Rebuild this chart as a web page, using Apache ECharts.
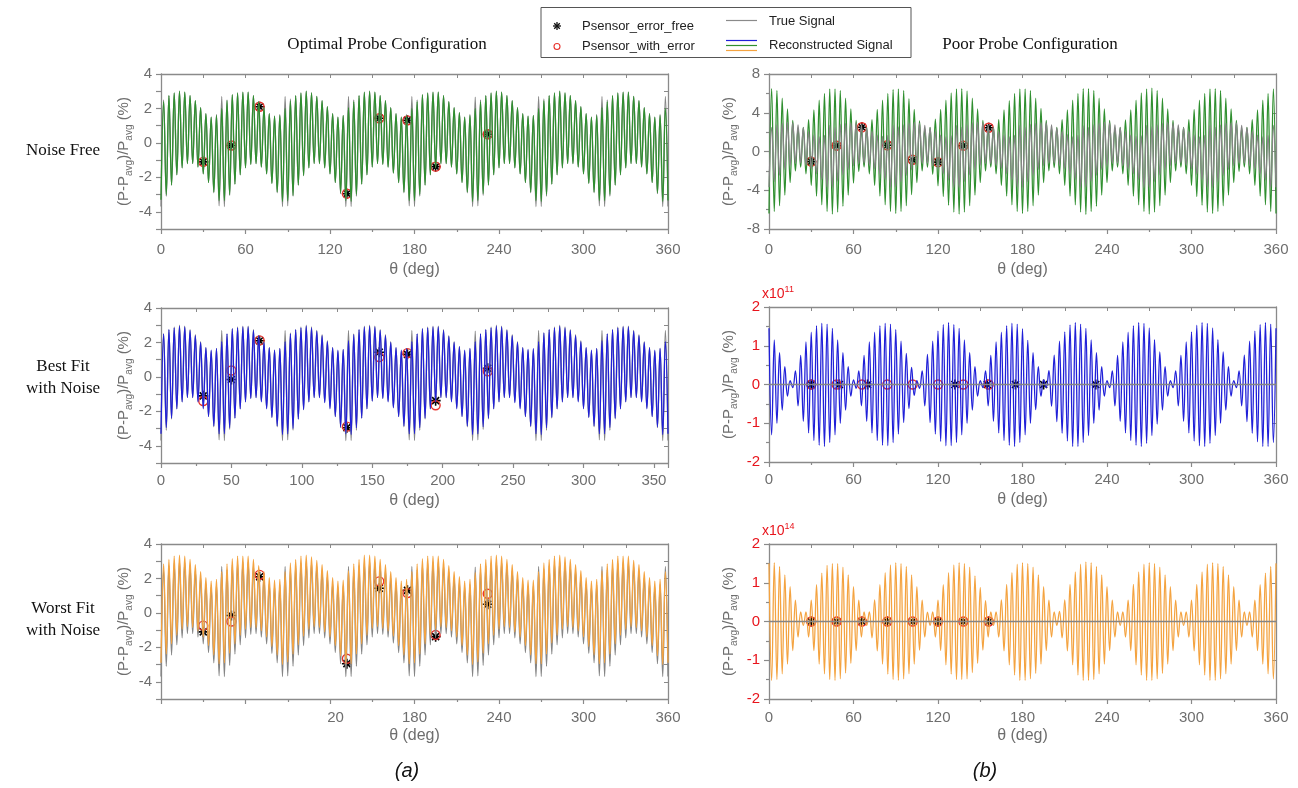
<!DOCTYPE html>
<html><head><meta charset="utf-8">
<script src="https://cdn.jsdelivr.net/npm/echarts@6/dist/echarts.min.js"></script>
<style>html,body{margin:0;padding:0;background:#fff}#c{width:1298px;height:788px}</style>
</head><body><div id="c"></div>
<script>
// ---------------- DATA ----------------
// signals are sampled every THETA_STEP degrees (extrema of the carrier), 193 samples 0..360
const THETA_STEP = 1.875;

const trueSignal = [
-3.7,2.5,-3.1,2.75,-2.45,2.9,-1.85,3.0,-1.45,2.95,-1.2,2.75,-1.2,2.45,-1.4,2.05,-1.8,1.7,-2.3,1.5,-2.9,1.65,-3.65,2.7,
-3.7,2.5,-3.05,2.8,-2.4,2.9,-1.85,2.95,-1.45,2.95,-1.25,2.75,-1.2,2.4,-1.4,2.05,-1.8,1.7,-2.35,1.55,-2.9,1.65,-3.7,2.7,
-3.65,2.55,-3.1,2.75,-2.45,2.9,-1.9,3.0,-1.45,2.9,-1.2,2.7,-1.2,2.45,-1.45,2.1,-1.8,1.7,-2.3,1.5,-2.95,1.6,-3.7,2.7,
-3.7,2.5,-3.1,2.75,-2.4,2.95,-1.85,3.0,-1.4,2.95,-1.2,2.75,-1.25,2.45,-1.4,2.05,-1.75,1.7,-2.3,1.5,-2.9,1.65,-3.65,2.7,
-3.7,2.5,-3.1,2.8,-2.45,2.9,-1.85,2.95,-1.45,2.95,-1.2,2.75,-1.2,2.4,-1.4,2.05,-1.8,1.75,-2.3,1.5,-2.9,1.65,-3.7,2.65,
-3.65,2.5,-3.05,2.75,-2.45,2.9,-1.85,3.0,-1.45,2.95,-1.2,2.75,-1.2,2.45,-1.45,2.05,-1.8,1.7,-2.3,1.55,-2.9,1.6,-3.7,2.7,
-3.7,2.55,-3.1,2.75,-2.4,2.9,-1.85,3.0,-1.45,2.9,-1.2,2.75,-1.2,2.45,-1.4,2.1,-1.8,1.7,-2.35,1.5,-2.9,1.65,-3.65,2.7,
-3.7,2.5,-3.1,2.75,-2.45,2.9,-1.85,2.95,-1.45,2.95,-1.2,2.7,-1.2,2.45,-1.4,2.05,-1.8,1.7,-2.3,1.5,-2.95,1.65,-3.7,2.7,
-3.7];

const recOptNoiseFree = [
-3.3,2.4,-3.0,2.75,-2.45,2.9,-1.85,3.0,-1.45,2.95,-1.2,2.75,-1.2,2.45,-1.4,2.05,-1.8,1.7,-2.3,1.5,-2.85,1.6,-3.35,2.0,
-3.35,2.45,-3.0,2.8,-2.4,2.9,-1.85,2.95,-1.45,2.95,-1.25,2.75,-1.2,2.4,-1.4,2.05,-1.8,1.7,-2.35,1.55,-2.85,1.6,-3.4,2.0,
-3.35,2.45,-3.05,2.75,-2.45,2.9,-1.9,3.0,-1.45,2.9,-1.2,2.7,-1.2,2.45,-1.45,2.1,-1.8,1.7,-2.3,1.5,-2.9,1.6,-3.35,2.05,
-3.4,2.4,-3.0,2.75,-2.4,2.95,-1.85,3.0,-1.4,2.95,-1.2,2.75,-1.25,2.45,-1.4,2.05,-1.75,1.7,-2.3,1.5,-2.85,1.6,-3.35,2.0,
-3.35,2.4,-3.0,2.8,-2.45,2.9,-1.85,2.95,-1.45,2.95,-1.2,2.75,-1.2,2.4,-1.4,2.05,-1.8,1.75,-2.3,1.5,-2.85,1.6,-3.4,2.0,
-3.35,2.4,-2.95,2.75,-2.45,2.9,-1.85,3.0,-1.45,2.95,-1.2,2.75,-1.2,2.45,-1.45,2.05,-1.8,1.7,-2.3,1.55,-2.85,1.6,-3.35,2.0,
-3.4,2.45,-3.0,2.75,-2.4,2.9,-1.85,3.0,-1.45,2.9,-1.2,2.75,-1.2,2.45,-1.4,2.1,-1.8,1.7,-2.35,1.5,-2.85,1.6,-3.35,2.05,
-3.35,2.4,-3.0,2.75,-2.45,2.9,-1.85,2.95,-1.45,2.95,-1.2,2.7,-1.2,2.45,-1.4,2.05,-1.8,1.7,-2.3,1.5,-2.9,1.6,-3.4,2.0,
-3.35];

const recOptBestFit = [
-3.3,2.5,-2.95,2.75,-2.4,2.85,-1.85,2.95,-1.45,2.9,-1.2,2.7,-1.2,2.4,-1.45,2.0,-1.85,1.7,-2.3,1.55,-2.85,1.65,-3.3,2.05,
-3.3,2.5,-2.95,2.8,-2.4,2.85,-1.85,2.9,-1.45,2.9,-1.25,2.7,-1.2,2.4,-1.45,2.0,-1.85,1.7,-2.35,1.55,-2.85,1.65,-3.35,2.05,
-3.3,2.5,-3.0,2.75,-2.45,2.85,-1.9,2.95,-1.45,2.85,-1.2,2.65,-1.2,2.4,-1.5,2.05,-1.85,1.7,-2.3,1.55,-2.9,1.6,-3.3,2.1,
-3.35,2.45,-2.95,2.75,-2.4,2.9,-1.85,2.95,-1.4,2.9,-1.2,2.7,-1.25,2.4,-1.45,2.0,-1.8,1.7,-2.3,1.55,-2.85,1.65,-3.3,2.05,
-3.3,2.5,-2.95,2.8,-2.4,2.85,-1.85,2.9,-1.45,2.9,-1.2,2.7,-1.2,2.35,-1.45,2.0,-1.85,1.75,-2.3,1.55,-2.85,1.65,-3.35,2.05,
-3.3,2.5,-2.9,2.75,-2.4,2.85,-1.85,2.95,-1.45,2.9,-1.2,2.7,-1.2,2.4,-1.5,2.0,-1.85,1.7,-2.3,1.6,-2.85,1.65,-3.3,2.05,
-3.35,2.55,-2.95,2.75,-2.35,2.85,-1.85,2.95,-1.45,2.85,-1.2,2.7,-1.2,2.4,-1.45,2.05,-1.85,1.7,-2.35,1.55,-2.85,1.65,-3.3,2.1,
-3.3,2.5,-2.95,2.75,-2.4,2.85,-1.85,2.9,-1.45,2.9,-1.2,2.65,-1.2,2.4,-1.45,2.0,-1.85,1.7,-2.3,1.55,-2.9,1.65,-3.35,2.05,
-3.3];

const recOptWorstFit = [
-2.9,2.85,-2.4,3.1,-1.8,3.3,-1.3,3.35,-0.95,3.3,-0.8,3.1,-0.85,2.8,-1.05,2.4,-1.4,2.05,-1.9,1.85,-2.45,1.95,-2.95,2.4,
-2.9,2.85,-2.35,3.15,-1.8,3.3,-1.3,3.3,-0.95,3.3,-0.85,3.1,-0.85,2.75,-1.05,2.4,-1.4,2.05,-1.95,1.9,-2.45,1.95,-3.0,2.4,
-2.85,2.9,-2.4,3.1,-1.85,3.3,-1.35,3.35,-0.95,3.25,-0.8,3.05,-0.85,2.8,-1.1,2.45,-1.4,2.05,-1.9,1.85,-2.5,1.9,-2.95,2.45,
-2.95,2.85,-2.4,3.1,-1.8,3.35,-1.3,3.35,-0.9,3.3,-0.8,3.1,-0.9,2.8,-1.05,2.4,-1.35,2.05,-1.9,1.85,-2.45,1.95,-2.95,2.4,
-2.9,2.85,-2.4,3.15,-1.8,3.3,-1.3,3.3,-0.95,3.3,-0.8,3.1,-0.85,2.75,-1.05,2.4,-1.4,2.1,-1.9,1.85,-2.45,1.95,-3.0,2.35,
-2.85,2.85,-2.35,3.1,-1.8,3.3,-1.3,3.35,-0.95,3.3,-0.8,3.1,-0.85,2.8,-1.1,2.4,-1.4,2.05,-1.9,1.9,-2.45,1.9,-2.95,2.4,
-2.95,2.9,-2.4,3.1,-1.75,3.3,-1.3,3.35,-0.95,3.25,-0.8,3.1,-0.85,2.8,-1.05,2.45,-1.4,2.05,-1.95,1.85,-2.45,1.95,-2.95,2.45,
-2.9,2.85,-2.4,3.1,-1.8,3.3,-1.3,3.3,-0.95,3.3,-0.8,3.05,-0.85,2.8,-1.05,2.4,-1.4,2.05,-1.9,1.85,-2.5,1.95,-3.0,2.4,
-2.9];

const recPoorNoiseFree = [
-6.4,6.5,-6.2,6.3,-5.6,5.5,-4.5,4.4,-3.2,3.2,-2.0,2.4,-1.6,2.5,-2.3,3.3,-3.5,4.3,-4.6,5.3,-5.5,6.0,-6.2,6.45,
-6.45,6.45,-6.25,6.3,-5.65,5.5,-4.5,4.4,-3.25,3.2,-2.05,2.4,-1.6,2.45,-2.3,3.3,-3.5,4.35,-4.6,5.3,-5.5,6.0,-6.2,6.4,
-6.4,6.45,-6.2,6.3,-5.6,5.45,-4.45,4.35,-3.2,3.15,-2.0,2.35,-1.6,2.5,-2.35,3.35,-3.55,4.35,-4.65,5.3,-5.55,6.05,-6.25,6.45,
-6.45,6.5,-6.25,6.25,-5.6,5.5,-4.5,4.4,-3.2,3.2,-2.0,2.4,-1.6,2.5,-2.3,3.3,-3.5,4.3,-4.6,5.25,-5.5,6.0,-6.2,6.45,
-6.4,6.45,-6.2,6.3,-5.6,5.5,-4.5,4.45,-3.2,3.2,-2.0,2.4,-1.65,2.5,-2.3,3.3,-3.5,4.3,-4.6,5.3,-5.5,6.0,-6.25,6.5,
-6.5,6.5,-6.2,6.3,-5.65,5.5,-4.5,4.4,-3.2,3.2,-2.0,2.4,-1.6,2.5,-2.3,3.25,-3.5,4.3,-4.6,5.3,-5.5,6.05,-6.2,6.45,
-6.45,6.55,-6.25,6.3,-5.6,5.5,-4.5,4.4,-3.2,3.2,-2.0,2.4,-1.6,2.5,-2.3,3.3,-3.5,4.35,-4.65,5.3,-5.55,6.0,-6.25,6.45,
-6.4,6.5,-6.2,6.3,-5.6,5.5,-4.5,4.4,-3.2,3.2,-2.05,2.4,-1.6,2.5,-2.3,3.3,-3.5,4.3,-4.6,5.3,-5.5,6.0,-6.2,6.45,
-6.4];

// reconstructed signal, poor configuration, best fit with noise, in units of 1e11 %
const recPoorBestFit = [
1.45,-1.3,1.15,-1.0,0.82,-0.66,0.46,-0.3,0.1,-0.08,0.35,-0.55,0.75,-0.95,1.1,-1.25,1.35,-1.45,1.52,-1.57,1.58,-1.6,1.56,-1.5,
1.45,-1.3,1.15,-1.0,0.82,-0.66,0.46,-0.3,0.12,-0.1,0.35,-0.55,0.75,-0.95,1.1,-1.25,1.35,-1.45,1.52,-1.57,1.58,-1.58,1.56,-1.5,
1.42,-1.28,1.12,-0.98,0.8,-0.62,0.44,-0.28,0.1,-0.1,0.35,-0.55,0.78,-0.98,1.12,-1.28,1.38,-1.47,1.55,-1.58,1.6,-1.58,1.55,-1.5,
1.45,-1.3,1.15,-1.0,0.82,-0.66,0.46,-0.3,0.1,-0.08,0.35,-0.55,0.75,-0.95,1.1,-1.25,1.35,-1.45,1.52,-1.57,1.58,-1.6,1.56,-1.5,
1.44,-1.3,1.14,-1.0,0.82,-0.65,0.46,-0.3,0.12,-0.08,0.36,-0.56,0.76,-0.96,1.12,-1.26,1.36,-1.46,1.54,-1.6,1.6,-1.6,1.56,-1.5,
1.45,-1.32,1.15,-1.0,0.82,-0.66,0.46,-0.3,0.1,-0.08,0.35,-0.55,0.75,-0.95,1.1,-1.25,1.35,-1.45,1.52,-1.57,1.6,-1.6,1.58,-1.52,
1.46,-1.32,1.16,-1.02,0.84,-0.66,0.46,-0.3,0.1,-0.08,0.35,-0.55,0.75,-0.95,1.1,-1.25,1.36,-1.46,1.53,-1.58,1.6,-1.6,1.58,-1.52,
1.46,-1.32,1.16,-1.0,0.84,-0.66,0.46,-0.3,0.1,-0.08,0.35,-0.55,0.76,-0.96,1.12,-1.26,1.38,-1.48,1.55,-1.6,1.6,-1.6,1.56,-1.5,
1.45];

// reconstructed signal, poor configuration, worst fit with noise, in units of 1e14 %
const recPoorWorstFit = [
1.5,-1.52,1.52,-1.5,1.42,-1.35,1.2,-1.1,0.9,-0.75,0.55,-0.4,0.25,-0.1,0.25,-0.4,0.55,-0.75,0.95,-1.1,1.25,-1.35,1.45,-1.5,
1.5,-1.52,1.5,-1.48,1.4,-1.33,1.2,-1.08,0.9,-0.75,0.55,-0.4,0.25,-0.1,0.25,-0.42,0.56,-0.76,0.95,-1.1,1.26,-1.36,1.46,-1.5,
1.52,-1.52,1.5,-1.48,1.42,-1.35,1.2,-1.1,0.9,-0.74,0.55,-0.4,0.24,-0.1,0.25,-0.4,0.55,-0.75,0.95,-1.12,1.26,-1.36,1.46,-1.5,
1.52,-1.5,1.5,-1.48,1.4,-1.32,1.18,-1.08,0.88,-0.74,0.54,-0.4,0.25,-0.1,0.25,-0.4,0.56,-0.76,0.96,-1.12,1.26,-1.38,1.48,-1.52,
1.52,-1.52,1.5,-1.48,1.4,-1.34,1.2,-1.1,0.9,-0.75,0.55,-0.4,0.25,-0.1,0.26,-0.42,0.56,-0.76,0.96,-1.12,1.28,-1.38,1.48,-1.52,
1.54,-1.52,1.52,-1.5,1.42,-1.35,1.2,-1.1,0.9,-0.75,0.55,-0.4,0.25,-0.1,0.25,-0.4,0.55,-0.75,0.96,-1.12,1.28,-1.38,1.48,-1.52,
1.52,-1.52,1.5,-1.48,1.4,-1.34,1.2,-1.1,0.9,-0.75,0.55,-0.4,0.25,-0.1,0.25,-0.4,0.55,-0.76,0.96,-1.12,1.28,-1.38,1.48,-1.52,
1.52,-1.52,1.5,-1.48,1.42,-1.35,1.2,-1.1,0.9,-0.75,0.55,-0.4,0.25,-0.1,0.25,-0.4,0.55,-0.75,0.95,-1.1,1.25,-1.35,1.42,-1.48,
1.5];

// sensor positions (deg) and readings (%)
const optTheta = [30, 50, 70, 132, 155, 175, 195, 232];
const optErrorFree = [-1.1, -0.15, 2.1, -2.95, 1.43, 1.31, -1.38, 0.5];
const optWithErrorBest = [-1.4, 0.37, 2.12, -2.89, 1.15, 1.38, -1.65, 0.33];
const optWithErrorWorst = [-0.74, -0.5, 2.21, -2.66, 1.83, 1.15, -1.28, 1.11];
const poorTheta = [30, 48, 66, 84, 102, 120, 138, 156];
const poorErrorFree = [-1.05, 0.6, 2.5, 0.65, -0.85, -1.1, 0.6, 2.45];

// tick labels
const xLabels60 = ['0', '60', '120', '180', '240', '300', '360'];
const xLabels50 = ['0', '50', '100', '150', '200', '250', '300', '350'];
const xLabelsWorstOpt = ['', '', '20', '180', '240', '300', '360'];
const yLabelsOpt = [-4, -2, 0, 2, 4];

const UNIT_B = 1e11, UNIT_W = 1e14;

// ---------------- STYLE ----------------
const AX = '#8a8a8a', TX = '#6e6e6e', RED = '#e8141c';
const SANS = 'Liberation Sans, Arial, sans-serif';
const SERIF = 'Liberation Serif, Times New Roman, serif';
const C_GRAY = '#858585', C_GREEN = '#2f8f2f', C_BLUE = '#2020d8', C_ORANGE = '#f4a340';
// filled asterisk outline (four bars, same winding)
const STAR = 'path://M0 4.2L10 4.2L10 5.8L0 5.8Z M4.2 0L5.8 0L5.8 10L4.2 10Z M0.93 2.07L2.07 0.93L9.07 7.93L7.93 9.07Z M7.93 0.93L9.07 2.07L2.07 9.07L0.93 7.93Z';

const signalPairs = (vals, unit) => vals.map((v, i) => [i * THETA_STEP, unit ? v / unit : v]);
const markerPairs = (th, vals, unit) => th.map((t, i) => [t, unit ? vals[i] / unit : vals[i]]);

const grids = [
  {left: 161, top: 74, width: 507, height: 155},
  {left: 769, top: 74, width: 507, height: 155},
  {left: 161, top: 308, width: 507, height: 155},
  {left: 769, top: 307, width: 507, height: 155},
  {left: 161, top: 544, width: 507, height: 155},
  {left: 769, top: 544, width: 507, height: 155}
];

const yName = '{n|(P-P}{s|avg}{n|)/P}{s|avg}{n| (%)}';
const yNameStyle = {
  rich: {
    n: {fontSize: 15, color: TX, fontFamily: SANS, lineHeight: 20},
    s: {fontSize: 10, color: TX, fontFamily: SANS, lineHeight: 9, verticalAlign: 'bottom'}
  }
};

function xAxesFor(g, interval, labels, richLabel, margin, gap) {
  return [{
    gridIndex: g, type: 'value', min: 0, max: 360, interval: interval, position: 'bottom',
    axisLine: {show: true, onZero: false, lineStyle: {color: AX, width: 1.3}},
    axisTick: {show: true, length: 5, lineStyle: {color: AX, width: 1.2}},
    minorTick: {show: true, splitNumber: 2, length: 3, lineStyle: {color: AX, width: 1.2}},
    splitLine: {show: false},
    axisLabel: {
      color: TX, fontSize: 15, fontFamily: SANS, margin: margin,
      formatter: v => { const k = Math.round(v / interval); return (Math.abs(v - k * interval) < 1e-6 && labels[k] !== undefined) ? (richLabel && labels[k] === '20' ? '{p|20}' : labels[k]) : ''; },
      rich: {p: {color: TX, fontSize: 15, fontFamily: SANS, padding: [0, 0, 0, 11]}}
    },
    name: 'θ (deg)', nameLocation: 'middle', nameGap: gap,
    nameTextStyle: {color: TX, fontSize: 16, fontFamily: SANS}
  }, {
    gridIndex: g, type: 'value', min: 0, max: 360, interval: interval / 2, position: 'top',
    axisLine: {show: true, onZero: false, lineStyle: {color: AX, width: 1.3}},
    axisTick: {show: true, inside: true, length: 4, lineStyle: {color: AX}},
    axisLabel: {show: false}, splitLine: {show: false}
  }];
}

function yAxesFor(g, min, max, interval, minorSplit, fmt, labelColor, gap) {
  const main = {
    gridIndex: g, type: 'value', min: min, max: max, interval: interval, position: 'left',
    axisLine: {show: true, onZero: false, lineStyle: {color: AX, width: 1.3}},
    axisTick: {show: true, length: 5, lineStyle: {color: AX, width: 1.2}},
    minorTick: {show: minorSplit > 0, splitNumber: minorSplit || 1, length: 3, lineStyle: {color: AX, width: 1.2}},
    splitLine: {show: false},
    axisLabel: {color: labelColor, fontSize: 15, fontFamily: SANS, margin: 9, formatter: fmt},
    name: yName, nameLocation: 'middle', nameGap: gap, nameRotate: 90, nameTextStyle: yNameStyle
  };
  const mirror = {
    gridIndex: g, type: 'value', min: min, max: max, interval: interval, position: 'right',
    axisLine: {show: true, onZero: false, lineStyle: {color: AX, width: 1.3}},
    axisTick: {show: true, inside: true, length: 4, lineStyle: {color: AX}},
    axisLabel: {show: false}, splitLine: {show: false}
  };
  return [main, mirror];
}

const fmtOpt = v => (yLabelsOpt.indexOf(v) >= 0 ? String(v) : '');
const fmtPlain = v => String(v);

const xAxis = [].concat(
  xAxesFor(0, 60, xLabels60, false, 13, 33), xAxesFor(1, 60, xLabels60, false, 13, 33),
  xAxesFor(2, 50, xLabels50, false, 10, 30), xAxesFor(3, 60, xLabels60, false, 10, 30),
  xAxesFor(4, 60, xLabelsWorstOpt, true, 11, 29), xAxesFor(5, 60, xLabels60, false, 11, 29)
);
const yAxis = [].concat(
  yAxesFor(0, -5, 4, 1, 0, fmtOpt, TX, 27),
  yAxesFor(1, -8, 8, 4, 2, fmtPlain, TX, 30),
  yAxesFor(2, -5, 4, 1, 0, fmtOpt, TX, 27),
  yAxesFor(3, -2, 2, 1, 2, fmtPlain, RED, 30),
  yAxesFor(4, -5, 4, 1, 0, fmtOpt, TX, 27),
  yAxesFor(5, -2, 2, 1, 2, fmtPlain, RED, 30)
);

function line(g, data, color, width) {
  return {type: 'line', xAxisIndex: 2 * g, yAxisIndex: 2 * g, data: data, showSymbol: false,
    smooth: 0.4, lineStyle: {color: color, width: width}, silent: true, animation: false};
}
function stars(g, data) {
  return {type: 'scatter', xAxisIndex: 2 * g, yAxisIndex: 2 * g, data: data, symbol: STAR, symbolSize: 10,
    itemStyle: {color: '#000', opacity: 1}, silent: true, animation: false};
}
function circles(g, data) {
  return {type: 'scatter', xAxisIndex: 2 * g, yAxisIndex: 2 * g, data: data, symbol: 'circle', symbolSize: 9,
    itemStyle: {color: 'rgba(0,0,0,0)', borderColor: '#e8322c', borderWidth: 1.4, opacity: 1}, silent: true, animation: false};
}

const series = [
  // (a) noise free
  line(0, signalPairs(trueSignal), C_GRAY, 1.3),
  line(0, signalPairs(recOptNoiseFree), C_GREEN, 1.3),
  stars(0, markerPairs(optTheta, optErrorFree)),
  circles(0, markerPairs(optTheta, optErrorFree)),
  // (b) noise free
  line(1, signalPairs(recPoorNoiseFree), C_GREEN, 1.3),
  line(1, signalPairs(trueSignal), C_GRAY, 1.3),
  stars(1, markerPairs(poorTheta, poorErrorFree)),
  circles(1, markerPairs(poorTheta, poorErrorFree)),
  // (a) best fit
  line(2, signalPairs(trueSignal), C_GRAY, 1.3),
  line(2, signalPairs(recOptBestFit), C_BLUE, 1.3),
  stars(2, markerPairs(optTheta, optErrorFree)),
  circles(2, markerPairs(optTheta, optWithErrorBest)),
  // (b) best fit (x1e11)
  line(3, signalPairs(recPoorBestFit), C_BLUE, 1.3),
  line(3, signalPairs(trueSignal, UNIT_B), C_GRAY, 1.3),
  stars(3, markerPairs(optTheta, optErrorFree, UNIT_B)),
  circles(3, markerPairs(poorTheta, poorErrorFree, UNIT_B)),
  // (a) worst fit
  line(4, signalPairs(trueSignal), C_GRAY, 1.3),
  line(4, signalPairs(recOptWorstFit), C_ORANGE, 1.3),
  stars(4, markerPairs(optTheta, optErrorFree)),
  circles(4, markerPairs(optTheta, optWithErrorWorst)),
  // (b) worst fit (x1e14)
  line(5, signalPairs(recPoorWorstFit), C_ORANGE, 1.3),
  line(5, signalPairs(trueSignal, UNIT_W), C_GRAY, 1.3),
  stars(5, markerPairs(poorTheta, poorErrorFree, UNIT_W)),
  circles(5, markerPairs(poorTheta, poorErrorFree, UNIT_W))
];

// ---------------- GRAPHIC TEXT / LEGEND ----------------
function txt(x, y, text, font, fill, align, extra) {
  return {type: 'text', x: x, y: y, silent: true,
    style: Object.assign({text: text, font: font, fill: fill, align: align || 'center', verticalAlign: 'middle'}, extra || {})};
}
function starGraphic(cx, cy, r) {
  const d = r * 0.7;
  const seg = (x1, y1, x2, y2) => ({type: 'line', shape: {x1: cx + x1, y1: cy + y1, x2: cx + x2, y2: cy + y2}, style: {stroke: '#111', lineWidth: 1.3}});
  return {type: 'group', silent: true, children: [seg(-r, 0, r, 0), seg(0, -r, 0, r), seg(-d, -d, d, d), seg(d, -d, -d, d)]};
}
function expo(x, y, base, exp) {
  return {type: 'text', x: x, y: y, silent: true, style: {
    text: '{a|' + base + '}{b|' + exp + '}', align: 'left', verticalAlign: 'middle',
    rich: {a: {fontSize: 14, fontFamily: SANS, fill: RED, color: RED, lineHeight: 18},
           b: {fontSize: 9, fontFamily: SANS, fill: RED, color: RED, lineHeight: 9, verticalAlign: 'top'}}
  }};
}

const graphic = [
  {type: 'rect', shape: {x: 541, y: 7.5, width: 370, height: 50}, style: {fill: 'none', stroke: '#555', lineWidth: 1}, silent: true},
  starGraphic(557, 26, 4),
  {type: 'circle', shape: {cx: 557, cy: 46.5, r: 3}, style: {fill: 'none', stroke: '#e8322c', lineWidth: 1.1}, silent: true},
  txt(582, 26, 'Psensor_error_free', '13px ' + SANS, '#222', 'left'),
  txt(582, 46.5, 'Psensor_with_error', '13px ' + SANS, '#222', 'left'),
  {type: 'line', shape: {x1: 726, y1: 20.5, x2: 757, y2: 20.5}, style: {stroke: '#8a8a8a', lineWidth: 1.2}, silent: true},
  {type: 'line', shape: {x1: 726, y1: 40.5, x2: 757, y2: 40.5}, style: {stroke: C_BLUE, lineWidth: 1.2}, silent: true},
  {type: 'line', shape: {x1: 726, y1: 45.5, x2: 757, y2: 45.5}, style: {stroke: C_GREEN, lineWidth: 1.2}, silent: true},
  {type: 'line', shape: {x1: 726, y1: 50.5, x2: 757, y2: 50.5}, style: {stroke: C_ORANGE, lineWidth: 1.2}, silent: true},
  txt(769, 21, 'True Signal', '13px ' + SANS, '#222', 'left'),
  txt(769, 45, 'Reconstructed Signal', '13px ' + SANS, '#222', 'left'),

  txt(387, 45, 'Optimal Probe Configuration', '17px ' + SERIF, '#111'),
  txt(1030, 45, 'Poor Probe Configuration', '17px ' + SERIF, '#111'),
  txt(63, 151, 'Noise Free', '17px ' + SERIF, '#111'),
  txt(63, 378, 'Best Fit\nwith Noise', '17px ' + SERIF, '#111', 'center', {lineHeight: 22}),
  txt(63, 620, 'Worst Fit\nwith Noise', '17px ' + SERIF, '#111', 'center', {lineHeight: 22}),
  txt(407, 771, '(a)', 'italic 20px ' + SANS, '#111'),
  txt(985, 771, '(b)', 'italic 20px ' + SANS, '#111'),

  expo(762, 294, 'x10', '11'),
  expo(762, 531, 'x10', '14')
];

const chart = echarts.init(document.getElementById('c'), null, {renderer: 'canvas'});
chart.setOption({
  animation: false,
  backgroundColor: '#fff',
  grid: grids,
  xAxis: xAxis,
  yAxis: yAxis,
  series: series,
  graphic: graphic
});
</script></body></html>
